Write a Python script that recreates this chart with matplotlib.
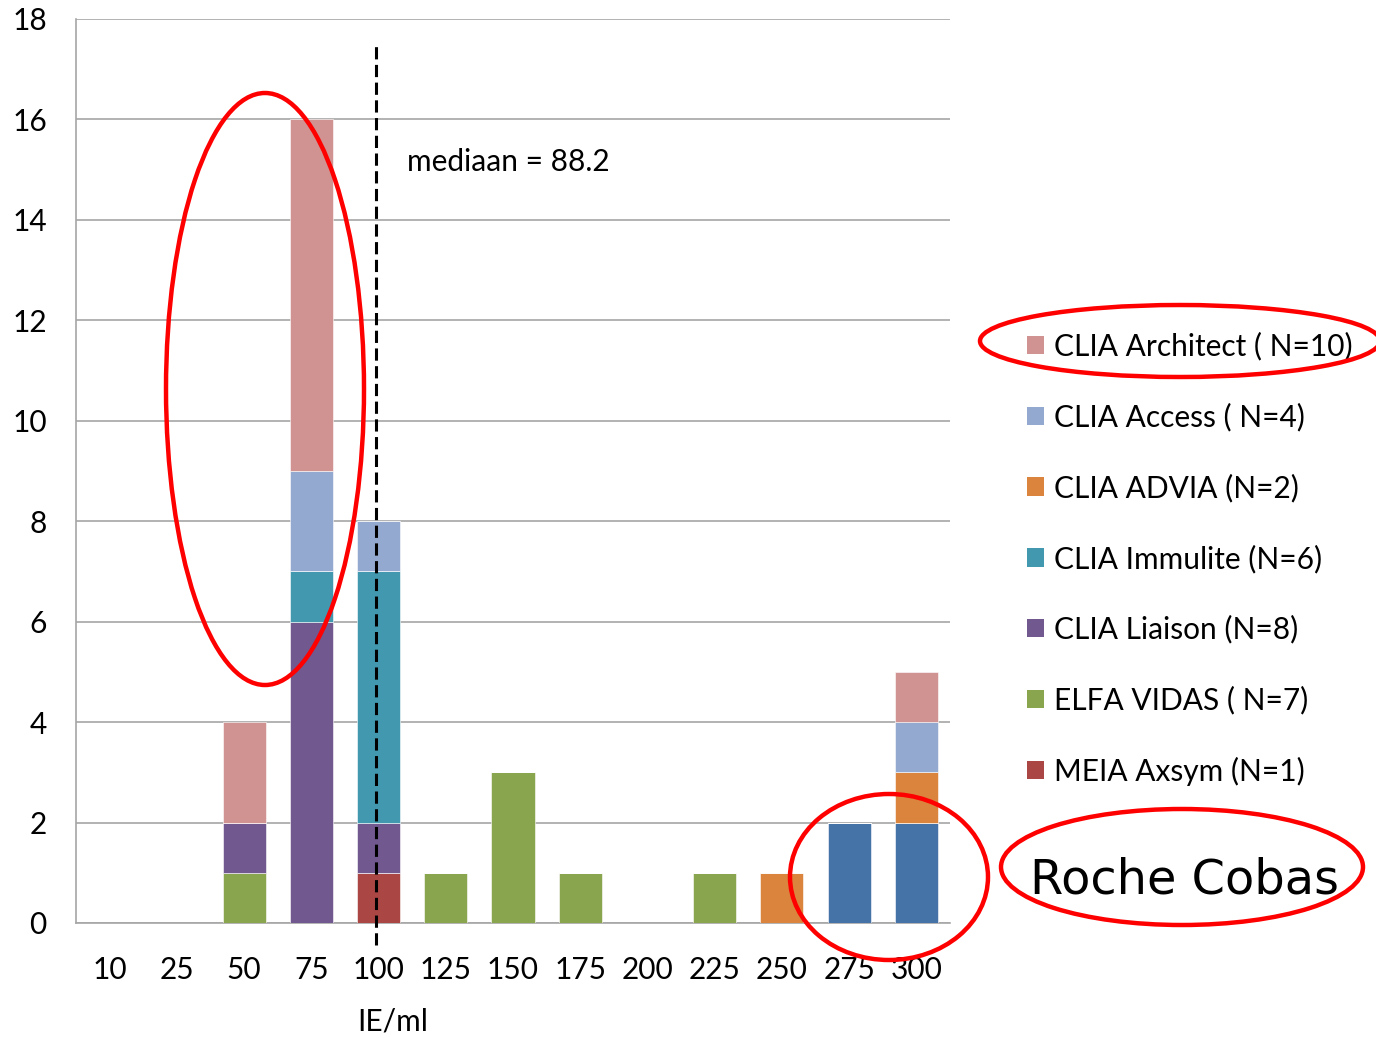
import matplotlib
matplotlib.use("Agg")
import matplotlib.pyplot as plt
import numpy as np
from matplotlib.patches import Ellipse, Patch

categories = ["10", "25", "50", "75", "100", "125", "150", "175", "200", "225", "250", "275", "300"]

# stacked bottom -> top
roche     = [0, 0, 0, 0, 0, 0, 0, 0, 0, 0, 0, 2, 2]
axsym     = [0, 0, 0, 0, 1, 0, 0, 0, 0, 0, 0, 0, 0]
vidas     = [0, 0, 1, 0, 0, 1, 3, 1, 0, 1, 0, 0, 0]
liaison   = [0, 0, 1, 6, 1, 0, 0, 0, 0, 0, 0, 0, 0]
immulite  = [0, 0, 0, 1, 5, 0, 0, 0, 0, 0, 0, 0, 0]
advia     = [0, 0, 0, 0, 0, 0, 0, 0, 0, 0, 1, 0, 1]
access    = [0, 0, 0, 2, 1, 0, 0, 0, 0, 0, 0, 0, 1]
architect = [0, 0, 2, 7, 0, 0, 0, 0, 0, 0, 0, 0, 1]

series = [
    ("Roche Cobas", roche, "#4572A7"),
    ("MEIA Axsym (N=1)", axsym, "#AA4643"),
    ("ELFA VIDAS ( N=7)", vidas, "#89A54E"),
    ("CLIA Liaison (N=8)", liaison, "#71588F"),
    ("CLIA Immulite (N=6)", immulite, "#4198AF"),
    ("CLIA ADVIA (N=2)", advia, "#DB843D"),
    ("CLIA Access ( N=4)", access, "#93A9CF"),
    ("CLIA Architect ( N=10)", architect, "#D19392"),
]

median_label = "mediaan = 88.2"
median_pos = 3.96
yticks = [0, 2, 4, 6, 8, 10, 12, 14, 16, 18]

plt.rcParams['font.family'] = ['Lato', 'DejaVu Sans']
FS = 21.5

W, H = 1376, 1038
fig = plt.figure(figsize=(W / 100, H / 100), dpi=100)
ax = fig.add_axes([76 / W, 1 - 923 / H, (950 - 76) / W, (923 - 19) / H])

x = np.arange(len(categories))
bottom = np.zeros(len(categories))
handles = {}
for name, vals, col in series:
    v = np.array(vals, dtype=float)
    ax.bar(x, v, 0.64, bottom=bottom, color=col, edgecolor="white",
           linewidth=0.4, zorder=3)
    handles[name] = Patch(facecolor=col, edgecolor="none")
    bottom += v

ax.set_xlim(-0.5, len(categories) - 0.5)
ax.set_ylim(0, 18)
ax.set_yticks(yticks)
ax.set_xticks(x)
ax.set_xticklabels(categories)
ax.tick_params(axis="both", length=0, labelsize=FS, colors="black")
ax.tick_params(axis="y", pad=21)
ax.tick_params(axis="x", pad=24)
ax.yaxis.grid(True, color="#A6A6A6", linewidth=1.2, zorder=0)
ax.set_axisbelow(True)
for s in ["top", "right"]:
    ax.spines[s].set_visible(False)
ax.spines["left"].set_color("#A6A6A6")
ax.spines["bottom"].set_color("#A6A6A6")
ax.spines["left"].set_linewidth(1.2)
ax.spines["bottom"].set_linewidth(1.2)

# median line
ax.plot([median_pos, median_pos], [-0.44, 17.48], color="black", lw=2.2,
        dashes=(4, 1.8), clip_on=False, zorder=5)
ax.text(median_pos + 0.46, 15.15, median_label, fontsize=FS, va="center", ha="left")

fig.text(393 / W, 1 - 1022 / H, "IE/ml", fontsize=FS, ha="center", va="center")

# legend
order = ["CLIA Architect ( N=10)", "CLIA Access ( N=4)", "CLIA ADVIA (N=2)",
         "CLIA Immulite (N=6)", "CLIA Liaison (N=8)", "ELFA VIDAS ( N=7)",
         "MEIA Axsym (N=1)"]
fig.legend([handles[n] for n in order], order, loc="upper left",
           bbox_to_anchor=(1027 / W, 1 - 332 / H), frameon=False,
           fontsize=FS, handlelength=0.57, handleheight=0.57,
           handletextpad=0.35, labelspacing=1.41, borderpad=0,
           borderaxespad=0)

# red annotation ellipses
def ell(cx, cy, w, h):
    e = Ellipse((cx / W, 1 - cy / H), w / W, h / H, transform=fig.transFigure,
                fill=False, edgecolor="#FF0000", linewidth=3.2, zorder=10)
    fig.add_artist(e)

ell(265, 389, 198, 592)
ell(1180, 341, 400, 72)
ell(889, 877, 198, 166)
ell(1182, 867, 362, 116)

fig.text(1185 / W, 1 - 880 / H, "Roche Cobas", fontsize=34.5, ha="center",
         va="center", family=["DejaVu Sans"])

fig.savefig("out.png", dpi=100)
